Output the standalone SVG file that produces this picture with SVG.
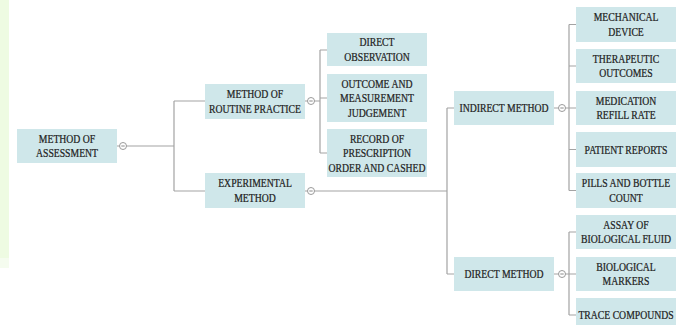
<svg xmlns="http://www.w3.org/2000/svg" width="685" height="325" viewBox="0 0 685 325">
<style>
.box{fill:#cfe7ea}
.t{font-family:"Liberation Serif","Times New Roman",serif;font-size:12px;fill:#222;stroke:#222;stroke-width:0.25;text-anchor:middle}
.c{fill:none;stroke:#a3a3a3;stroke-width:1.2}
.k{fill:#fff;stroke:#9a9a9a;stroke-width:1}
.m{stroke:#8a8a8a;stroke-width:1}
</style>
<rect width="685" height="325" fill="#fff"/>
<rect x="0" y="0" width="9" height="258" fill="#eefbe2"/>
<rect x="0" y="258" width="9" height="10" fill="#f5fcef"/>
<g id="connectors">
<path class="c" d="M117 146H174M174 101V191M174 101H205M174 191H205"/>
<path class="c" d="M305 101H320M320 50V153M320 50H327M320 98H327M320 153H327"/>
<path class="c" d="M305 191H447M447 108V274M447 108H454M447 274H454"/>
<path class="c" d="M554 108H569M569 24.5V190.5M569 24.5H576M569 66H576M569 108H576M569 149.5H576M569 190.5H576"/>
<path class="c" d="M554 274H569M569 232V315M569 232H576M569 274H576M569 315H576"/>
<circle class="k" cx="123" cy="146" r="3.5"/><path class="m" d="M121.3 146H124.7"/>
<circle class="k" cx="311" cy="101" r="3.5"/><path class="m" d="M309.3 101H312.7"/>
<circle class="k" cx="311" cy="191" r="3.5"/><path class="m" d="M309.3 191H312.7"/>
<circle class="k" cx="562" cy="108" r="3.5"/><path class="m" d="M560.3 108H563.7"/>
<circle class="k" cx="562" cy="274" r="3.5"/><path class="m" d="M560.3 274H563.7"/>
</g>
<g id="assessment"><rect class="box" x="17" y="129" width="100" height="34"/>
<text class="t" transform="translate(67 142.8) scale(0.81 1)">METHOD OF</text>
<text class="t" transform="translate(67 157.3) scale(0.81 1)">ASSESSMENT</text></g>
<g id="routine"><rect class="box" x="205" y="84" width="100" height="35"/>
<text class="t" transform="translate(255 98.3) scale(0.81 1)">METHOD OF</text>
<text class="t" transform="translate(255 112.8) scale(0.81 1)">ROUTINE PRACTICE</text></g>
<g id="experimental"><rect class="box" x="205" y="173" width="100" height="35"/>
<text class="t" transform="translate(255 187.3) scale(0.81 1)">EXPERIMENTAL</text>
<text class="t" transform="translate(255 201.8) scale(0.81 1)">METHOD</text></g>
<g id="direct-observation"><rect class="box" x="327" y="33" width="100" height="33"/>
<text class="t" transform="translate(377 46.3) scale(0.81 1)">DIRECT</text>
<text class="t" transform="translate(377 60.8) scale(0.81 1)">OBSERVATION</text></g>
<g id="outcome"><rect class="box" x="327" y="74" width="100" height="48"/>
<text class="t" transform="translate(377 87.5) scale(0.81 1)">OUTCOME AND</text>
<text class="t" transform="translate(377 102) scale(0.81 1)">MEASUREMENT</text>
<text class="t" transform="translate(377 116.5) scale(0.81 1)">JUDGEMENT</text></g>
<g id="record"><rect class="box" x="327" y="129" width="100" height="48"/>
<text class="t" transform="translate(377 142.5) scale(0.81 1)">RECORD OF</text>
<text class="t" transform="translate(377 157) scale(0.81 1)">PRESCRIPTION</text>
<text class="t" transform="translate(377 171.5) scale(0.81 1)">ORDER AND CASHED</text></g>
<g id="indirect"><rect class="box" x="454" y="91" width="100" height="34"/>
<text class="t" transform="translate(504 112.3) scale(0.81 1)">INDIRECT METHOD</text></g>
<g id="direct-method"><rect class="box" x="454" y="257" width="100" height="34"/>
<text class="t" transform="translate(504 278.3) scale(0.81 1)">DIRECT METHOD</text></g>
<g id="mechanical"><rect class="box" x="576" y="7" width="100" height="35"/>
<text class="t" transform="translate(626 21.3) scale(0.81 1)">MECHANICAL</text>
<text class="t" transform="translate(626 35.8) scale(0.81 1)">DEVICE</text></g>
<g id="therapeutic"><rect class="box" x="576" y="49" width="100" height="34"/>
<text class="t" transform="translate(626 62.8) scale(0.81 1)">THERAPEUTIC</text>
<text class="t" transform="translate(626 77.3) scale(0.81 1)">OUTCOMES</text></g>
<g id="medication"><rect class="box" x="576" y="91" width="100" height="34"/>
<text class="t" transform="translate(626 104.8) scale(0.81 1)">MEDICATION</text>
<text class="t" transform="translate(626 119.3) scale(0.81 1)">REFILL RATE</text></g>
<g id="patient"><rect class="box" x="576" y="132" width="100" height="35"/>
<text class="t" transform="translate(626 153.8) scale(0.81 1)">PATIENT REPORTS</text></g>
<g id="pills"><rect class="box" x="576" y="173" width="100" height="35"/>
<text class="t" transform="translate(626 187.3) scale(0.81 1)">PILLS AND BOTTLE</text>
<text class="t" transform="translate(626 201.8) scale(0.81 1)">COUNT</text></g>
<g id="assay"><rect class="box" x="576" y="215" width="100" height="34"/>
<text class="t" transform="translate(626 228.8) scale(0.81 1)">ASSAY OF</text>
<text class="t" transform="translate(626 243.3) scale(0.81 1)">BIOLOGICAL FLUID</text></g>
<g id="biomarkers"><rect class="box" x="576" y="257" width="100" height="34"/>
<text class="t" transform="translate(626 270.8) scale(0.81 1)">BIOLOGICAL</text>
<text class="t" transform="translate(626 285.3) scale(0.81 1)">MARKERS</text></g>
<g id="trace"><rect class="box" x="576" y="298" width="100" height="34"/>
<text class="t" transform="translate(626 319.3) scale(0.81 1)">TRACE COMPOUNDS</text></g>
</svg>
